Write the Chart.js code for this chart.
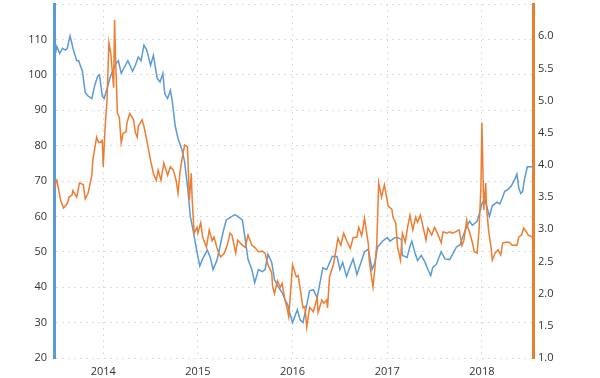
<!DOCTYPE html>
<html>
<head>
<meta charset="utf-8">
<script src="https://cdn.jsdelivr.net/npm/chart.js@4.4.1/dist/chart.umd.min.js"></script>
<style>
html,body{margin:0;padding:0;background:#fff;}
#wrap{width:600px;height:378px;}
</style>
</head>
<body>
<div id="wrap"><canvas id="c" width="600" height="378"></canvas></div>
<script>
// Year ticks
const yearTicks = [2014, 2015, 2016, 2017, 2018];
const leftTicks = [20, 30, 40, 50, 60, 70, 80, 90, 100, 110, 120];
const rightTicks = [1.0, 1.5, 2.0, 2.5, 3.0, 3.5, 4.0, 4.5, 5.0, 5.5, 6.0, 6.5];

// Blue series (left axis)
const oilYears = [2013.48,2013.51,2013.54,2013.57,2013.60,2013.62,2013.65,2013.68,2013.72,2013.74,2013.78,2013.81,2013.84,2013.88,2013.91,2013.94,2013.96,2013.99,2014.01,2014.04,2014.07,2014.13,2014.16,2014.19,2014.22,2014.26,2014.31,2014.34,2014.37,2014.40,2014.43,2014.46,2014.50,2014.53,2014.57,2014.60,2014.63,2014.65,2014.68,2014.71,2014.73,2014.76,2014.79,2014.83,2014.86,2014.89,2014.92,2014.95,2014.99,2015.02,2015.05,2015.10,2015.13,2015.16,2015.20,2015.23,2015.27,2015.30,2015.36,2015.39,2015.42,2015.47,2015.50,2015.53,2015.57,2015.60,2015.64,2015.68,2015.71,2015.74,2015.78,2015.81,2015.85,2015.89,2015.92,2015.95,2015.97,2016.00,2016.05,2016.08,2016.11,2016.15,2016.18,2016.22,2016.26,2016.29,2016.32,2016.36,2016.42,2016.47,2016.50,2016.53,2016.57,2016.61,2016.64,2016.68,2016.71,2016.76,2016.80,2016.84,2016.87,2016.90,2016.92,2016.95,2017.00,2017.03,2017.08,2017.11,2017.15,2017.16,2017.21,2017.24,2017.26,2017.29,2017.32,2017.36,2017.40,2017.43,2017.46,2017.48,2017.52,2017.57,2017.61,2017.66,2017.69,2017.73,2017.77,2017.80,2017.84,2017.87,2017.90,2017.95,2017.98,2018.00,2018.03,2018.05,2018.08,2018.11,2018.16,2018.19,2018.22,2018.24,2018.27,2018.31,2018.35,2018.37,2018.39,2018.41,2018.43,2018.45,2018.48,2018.54];
const oilValues = [104,108,106,107.5,107,107.5,111,107.5,104,104,101,95,94,93.3,97,99.5,100,94,93.3,96,99,103,104,100.4,102,104,101,102.7,105,104,108.4,107,102.7,105.5,99,98,100.4,94.7,93.3,95.6,92.4,85.6,82,79,75.4,68.6,60,56,50,46,48,50.5,48.5,45,47.5,51,56,59,60,60.5,60,59,53.5,47.8,45,41.3,45,44.4,45,49.3,47,42,40,38.5,36.5,35,32.8,30,33.6,30.8,30,35,39,39.3,37,41.3,45.5,45,48.7,48.7,45,47,43,46,48,43.6,46,50,50.7,45,47,51.5,52,53,54,53,54,54,53.5,49,48.4,51.5,53,50,47.5,49,47,45,43.3,45.5,46.5,50,48,47.8,49.3,51.3,52,54.4,57.2,58.6,57.5,58.6,61.5,63.5,65,63,60,63,64,63.5,65.5,67,67.5,68.6,70.6,72,68,66.5,67,70.5,74,74];

// Orange series (right axis)
const gasYears = [2013.48,2013.51,2013.55,2013.58,2013.62,2013.64,2013.67,2013.68,2013.72,2013.75,2013.79,2013.81,2013.84,2013.88,2013.89,2013.93,2013.95,2013.97,2013.99,2014.00,2014.02,2014.04,2014.06,2014.08,2014.11,2014.12,2014.13,2014.15,2014.17,2014.19,2014.21,2014.24,2014.25,2014.28,2014.32,2014.34,2014.36,2014.37,2014.41,2014.43,2014.46,2014.50,2014.53,2014.56,2014.58,2014.61,2014.64,2014.68,2014.71,2014.74,2014.77,2014.79,2014.81,2014.83,2014.86,2014.89,2014.91,2014.93,2014.94,2014.96,2014.99,2015.00,2015.03,2015.05,2015.09,2015.12,2015.15,2015.17,2015.20,2015.22,2015.24,2015.28,2015.31,2015.34,2015.36,2015.40,2015.42,2015.47,2015.50,2015.53,2015.57,2015.60,2015.64,2015.68,2015.71,2015.74,2015.78,2015.79,2015.81,2015.84,2015.87,2015.89,2015.92,2015.94,2015.96,2015.98,2016.00,2016.04,2016.06,2016.09,2016.11,2016.13,2016.15,2016.18,2016.22,2016.26,2016.27,2016.31,2016.33,2016.36,2016.37,2016.39,2016.43,2016.45,2016.48,2016.51,2016.54,2016.57,2016.61,2016.64,2016.68,2016.70,2016.73,2016.76,2016.80,2016.81,2016.83,2016.85,2016.87,2016.89,2016.91,2016.94,2016.97,2017.01,2017.05,2017.06,2017.09,2017.11,2017.14,2017.16,2017.19,2017.22,2017.24,2017.27,2017.30,2017.32,2017.35,2017.38,2017.41,2017.43,2017.47,2017.50,2017.53,2017.57,2017.59,2017.63,2017.66,2017.69,2017.72,2017.76,2017.79,2017.81,2017.84,2017.85,2017.87,2017.90,2017.92,2017.95,2017.97,2017.99,2018.00,2018.02,2018.04,2018.05,2018.07,2018.10,2018.11,2018.14,2018.17,2018.20,2018.22,2018.26,2018.29,2018.32,2018.37,2018.39,2018.42,2018.44,2018.47,2018.49,2018.53];
const gasValues = [3.66,3.76,3.45,3.33,3.4,3.5,3.53,3.6,3.5,3.72,3.69,3.47,3.56,3.84,4.07,4.43,4.35,4.35,4.38,3.97,4.59,5.0,5.9,5.73,5.2,6.25,5.67,4.8,4.74,4.34,4.49,4.51,4.65,4.8,4.7,4.5,4.43,4.6,4.7,4.6,4.38,4.07,3.87,3.76,3.92,3.76,4.03,3.84,3.97,3.92,3.76,3.56,3.87,4.07,4.31,4.28,3.45,3.87,3.45,2.94,3.03,2.94,3.1,2.88,2.72,2.99,2.82,2.88,2.72,2.63,2.57,2.63,2.75,2.94,2.91,2.63,2.83,2.75,2.72,2.91,2.75,2.72,2.65,2.66,2.63,2.45,2.32,2.1,2.0,2.2,2.1,2.16,1.9,1.79,1.64,2.05,2.45,2.26,2.28,1.98,1.78,1.8,1.48,1.79,1.72,1.94,1.71,1.9,1.85,1.9,1.78,2.26,2.44,2.6,2.86,2.75,2.94,2.83,2.7,2.87,2.88,3.03,2.9,3.17,2.78,2.52,2.3,2.1,2.4,2.79,3.72,3.5,3.69,3.36,3.31,3.19,3.1,2.72,2.52,2.94,2.8,3.07,3.22,2.99,3.19,3.11,3.22,3.03,2.83,3.02,2.91,3.03,2.94,2.79,2.96,2.94,2.96,2.94,2.96,2.99,2.75,2.83,3.14,3.03,2.96,2.79,2.65,2.63,2.99,3.66,4.66,3.3,3.72,3.34,2.99,2.68,2.52,2.63,2.68,2.6,2.79,2.8,2.8,2.75,2.75,2.88,2.91,3.02,2.96,2.91,2.88];

const BLUE = '#5b9bd5';
const ORANGE = '#ed7d31';
const GRID = '#dcdcdc';
const TXT = '#333333';
const FONT = {family: '"Open Sans", "DejaVu Sans", sans-serif', size: 11};

const oilData = oilYears.map((x, i) => ({x, y: oilValues[i]}));
const gasData = gasYears.map((x, i) => ({x, y: gasValues[i]}));

new Chart(document.getElementById('c'), {
  type: 'line',
  data: {
    datasets: [
      {data: gasData, yAxisID: 'yR', borderColor: ORANGE, borderWidth: 1.5, pointRadius: 0, tension: 0, fill: false},
      {data: oilData, yAxisID: 'yL', borderColor: BLUE, borderWidth: 1.5, pointRadius: 0, tension: 0, fill: false}
    ]
  },
  options: {
    responsive: false,
    animation: false,
    events: [],
    layout: {padding: {top: 4, left: 0, right: 0, bottom: 0}},
    plugins: {legend: {display: false}, tooltip: {enabled: false}},
    scales: {
      x: {
        type: 'linear',
        min: 2013.48,
        max: 2018.54,
        afterBuildTicks: s => { s.ticks = yearTicks.map(v => ({value: v})); },
        afterFit: s => { s.height = 20; s.paddingLeft = 0; s.paddingRight = 0; },
        grid: {color: GRID, lineWidth: 1, drawTicks: false},
        border: {display: false, dash: [2, 4]},
        ticks: {font: FONT, color: TXT, padding: 7, maxRotation: 0, callback: v => String(v)}
      },
      yL: {
        position: 'left',
        min: 20,
        max: 120,
        afterBuildTicks: s => { s.ticks = leftTicks.map(v => ({value: v})); },
        afterFit: s => { s.width = 54; s.paddingTop = 0; s.paddingBottom = 0; },
        grid: {color: GRID, lineWidth: 1, drawTicks: false},
        border: {display: true, color: BLUE, width: 3, dash: [2, 4]},
        ticks: {font: FONT, color: TXT, padding: 7, callback: v => v === 120 ? '' : String(v)}
      },
      yR: {
        position: 'right',
        min: 1,
        max: 6.5,
        afterBuildTicks: s => { s.ticks = rightTicks.map(v => ({value: v})); },
        afterFit: s => { s.width = 67; s.paddingTop = 0; s.paddingBottom = 0; },
        grid: {display: false, drawOnChartArea: false, drawTicks: false},
        border: {display: true, color: ORANGE, width: 3},
        ticks: {font: FONT, color: TXT, padding: 5, callback: v => v === 6.5 ? '' : v.toFixed(1)}
      }
    }
  }
});
</script>
</body>
</html>
